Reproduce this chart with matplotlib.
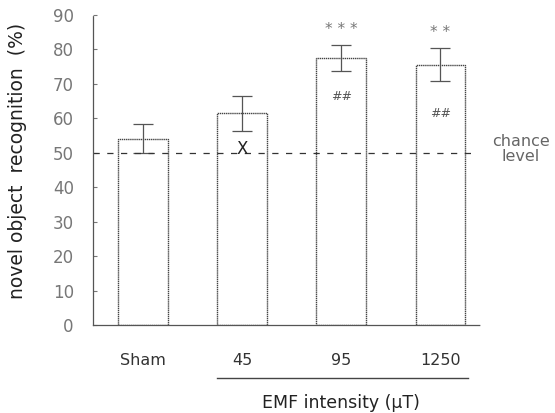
import matplotlib.pyplot as plt

plt.rcParams["font.family"] = ["DejaVu Sans"]

groups = ["Sham", "45", "95", "1250"]
means = [54.0, 61.4, 77.4, 75.5]
errors = [4.2, 5.0, 3.8, 4.8]
marks_inside = ["", "X", "##", "##"]
marks_above = ["", "", "* * *", "* *"]
chance = 50

fig = plt.figure(figsize=(5.55, 4.13), dpi=100)
ax = fig.add_axes([0.168, 0.213, 0.697, 0.751])

x = list(range(len(groups)))
ax.bar(x, means, width=0.5, facecolor="white", edgecolor="#444444",
       linewidth=1.0, linestyle=(0, (1, 0.5)))
ax.errorbar(x, means, yerr=errors, fmt="none", ecolor="#555555",
            elinewidth=0.9, capsize=7, capthick=0.9, linestyle=":")

ax.axhline(chance, color="#333333", linestyle=(0, (5, 6)), linewidth=0.9,
           xmax=0.99)
ax.text(1.106, chance + 1, "chance\nlevel", transform=ax.get_yaxis_transform(),
        ha="center", va="center", fontsize=11.5, color="#666666",
        linespacing=1.0)

for i in x:
    if marks_inside[i] == "X":
        ax.text(i, chance + 1, "X", ha="center", va="center", fontsize=12,
                color="#222222")
    elif marks_inside[i]:
        ax.text(i, means[i] - 11 - (i - 2) * 3, marks_inside[i], ha="center",
                va="center", fontsize=9, color="#555555", style="italic")
    if marks_above[i]:
        ax.text(i, means[i] + errors[i] + 2.5, marks_above[i], ha="center",
                va="bottom", fontsize=11, color="#777777")

ax.set_xlim(-0.5, 3.4)
ax.set_ylim(0, 90)
ax.set_yticks(range(0, 91, 10))
ax.set_xticks(x)
ax.set_xticklabels(groups, fontsize=11.5, color="#333333")
ax.tick_params(axis="y", direction="in", length=3, labelsize=12,
               labelcolor="#777777", color="#777777", pad=14)
ax.tick_params(axis="x", length=0, pad=20)
for s in ["top", "right"]:
    ax.spines[s].set_visible(False)
for s in ["left", "bottom"]:
    ax.spines[s].set_linestyle((0, (1, 1)))
    ax.spines[s].set_color("#555555")
    ax.spines[s].set_linewidth(0.9)

ax.set_ylabel("novel object  recognition  (%)", fontsize=13.5, color="#222222")
ax.yaxis.set_label_coords(-0.17, 0.53)

# bracket under EMF groups
ax.plot([0.75, 3.28], [-15.5, -15.5], color="#444444", linewidth=1.0,
        clip_on=False)
ax.text(2.0, -22.5, "EMF intensity (\u00b5T)", ha="center", va="center",
        fontsize=12.5, color="#222222")

fig.savefig("out.png", dpi=100)
